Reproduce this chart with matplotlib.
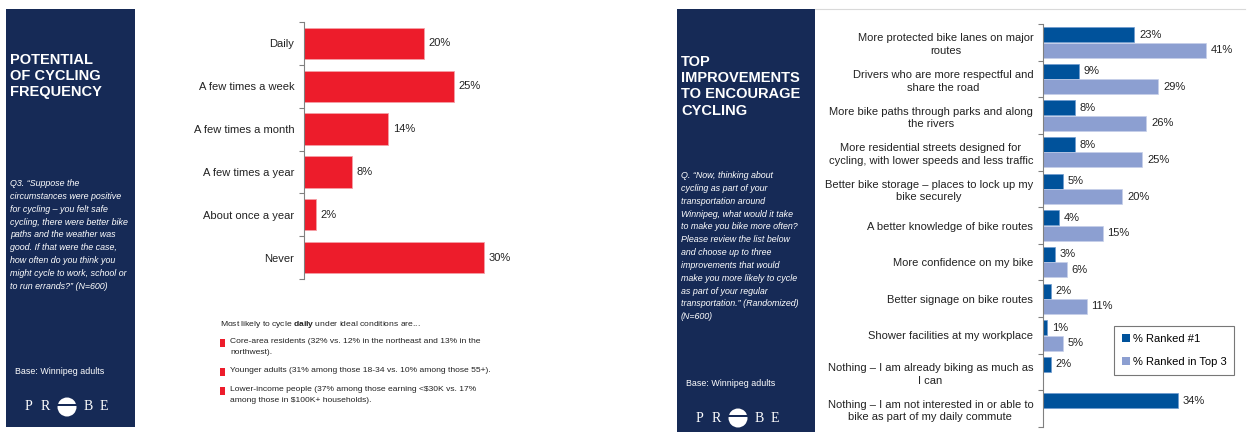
import numpy as np
import matplotlib
matplotlib.use('Agg')
import matplotlib.pyplot as plt
from matplotlib.patches import Rectangle, Ellipse, Patch

plt.rcParams['font.family'] = ['Liberation Sans', 'DejaVu Sans']
plt.rcParams['mathtext.fontset'] = 'custom'
plt.rcParams['mathtext.rm'] = 'Liberation Sans'
plt.rcParams['mathtext.bf'] = 'Liberation Sans:bold'

# data
freq_labels = ['Daily', 'A few times a week', 'A few times a month',
               'A few times a year', 'About once a year', 'Never']
freq_values = [20, 25, 14, 8, 2, 30]

impr_labels = ['More protected bike lanes on major\nroutes',
               'Drivers who are more respectful and\nshare the road',
               'More bike paths through parks and along\nthe rivers',
               'More residential streets designed for\ncycling, with lower speeds and less traffic',
               'Better bike storage \u2013 places to lock up my\nbike securely',
               'A better knowledge of bike routes',
               'More confidence on my bike',
               'Better signage on bike routes',
               'Shower facilities at my workplace',
               'Nothing \u2013 I am already biking as much as\nI can',
               'Nothing \u2013 I am not interested in or able to\nbike as part of my daily commute']
ranked_first = [23, 9, 8, 8, 5, 4, 3, 2, 1, 2, 34]
ranked_top3 = [41, 29, 26, 25, 20, 15, 6, 11, 5, np.nan, np.nan]
series_names = ['% Ranked #1', '% Ranked in Top 3']

navy = '#162a56'
red = '#ed1c2b'
dark_blue = '#00529b'
light_blue = '#8c9fd1'
axis_gray = '#808080'
txt = '#222222'

W, H = 1249, 432
fig = plt.figure(figsize=(W / 100, H / 100), dpi=100)


def fx(x):
    return x / W


def fy(y):
    return 1 - y / H


def panel(x0, y0, x1, y1, title, question, base_y, logo_y):
    fig.add_artist(Rectangle((fx(x0), fy(y1)), fx(x1 - x0), (y1 - y0) / H,
                             transform=fig.transFigure, facecolor=navy, edgecolor='none'))
    fig.text(fx(x0 + 4), fy(title[1]), title[0], color='white', fontsize=10.5,
             fontweight='bold', va='top', linespacing=1.2)
    fig.text(fx(x0 + 4), fy(question[1]), question[0], color='white', fontsize=6.4,
             style='italic', va='top', linespacing=1.55)
    fig.text(fx(x0 + 9), fy(base_y), 'Base: Winnipeg adults', color='white',
             fontsize=6.4, va='center')
    # PROBE logo
    cx = x0 + 61
    for dx, ch in zip([-39, -22, 21, 37], 'PRBE'):
        fig.text(fx(cx + dx), fy(logo_y), ch, color='white', fontsize=10,
                 family='Liberation Serif', va='center', ha='center')
    fig.add_artist(Ellipse((fx(cx), fy(logo_y)), 19 / W, 19 / H,
                           transform=fig.transFigure, facecolor='white', edgecolor='none'))
    fig.add_artist(Rectangle((fx(cx - 10), fy(logo_y - 1)), 20 / W, 2.5 / H,
                             transform=fig.transFigure, facecolor=navy, edgecolor='none'))


panel(6, 9, 135, 427,
      ('POTENTIAL\nOF CYCLING\nFREQUENCY', 53),
      ('Q3. \u201cSuppose the\ncircumstances were positive\nfor cycling \u2013 you felt safe\n'
       'cycling, there were better bike\npaths and the weather was\ngood. If that were the case,\n'
       'how often do you think you\nmight cycle to work, school or\nto run errands?\u201d (N=600)', 179),
      371, 407)

panel(677, 9, 815, 432,
      ('TOP\nIMPROVEMENTS\nTO ENCOURAGE\nCYCLING', 55),
      ('Q. \u201cNow, thinking about\ncycling as part of your\ntransportation around\n'
       'Winnipeg, what would it take\nto make you bike more often?\nPlease review the list below\n'
       'and choose up to three\nimprovements that would\nmake you more likely to cycle\n'
       'as part of your regular\ntransportation.\u201d (Randomized)\n(N=600)', 171),
      383, 418)

# thin line at top of right slide
fig.add_artist(plt.Line2D([fx(815), fx(1245)], [fy(9), fy(9)], transform=fig.transFigure,
                          color='#d9d9d9', lw=0.8))

# left chart
px_per = 6.0
ax = fig.add_axes([fx(304), fy(279), 50 * px_per / W, 257 / H])
y = np.arange(len(freq_values))
ax.barh(y, freq_values, height=0.73, color=red, edgecolor='#f4a0a6', linewidth=0.6)
for yi, v in zip(y, freq_values):
    ax.annotate(f'{v}%', (v, yi), xytext=(3.5, 0), textcoords='offset points',
                va='center', ha='left', fontsize=8, color=txt)
ax.set_xlim(0, 50)
ax.set_ylim(len(freq_values) - 0.5, -0.5)
ax.set_yticks(y)
ax.set_yticklabels(freq_labels, fontsize=8, color=txt)
ax.set_yticks(np.arange(-0.5, len(freq_values)), minor=True)
ax.tick_params(axis='y', which='major', length=0, pad=7)
ax.tick_params(axis='y', which='minor', length=3.5, color=axis_gray, width=0.8)
ax.set_xticks([])
for s in ['top', 'right', 'bottom']:
    ax.spines[s].set_visible(False)
ax.spines['left'].set_color(axis_gray)
ax.spines['left'].set_linewidth(0.8)
ax.patch.set_alpha(0)

# notes under left chart
fig.text(fx(220), fy(324), 'Most likely to cycle $\\bf{daily}$ under ideal conditions are...',
         fontsize=6.1, color=txt, va='center')
notes = ['Core-area residents (32% vs. 12% in the northeast and 13% in the\nnorthwest).',
         'Younger adults (31% among those 18-34 vs. 10% among those 55+).',
         'Lower-income people (37% among those earning <$30K vs. 17%\namong those in $100K+ households).']
note_y = [343, 372, 391]
for t, ny in zip(notes, note_y):
    fig.add_artist(Rectangle((fx(220), fy(ny + 4)), 5 / W, 8 / H, transform=fig.transFigure,
                             facecolor=red, edgecolor='none'))
    fig.text(fx(230), fy(ny - 5), t, fontsize=6.1, color=txt, va='top',
             linespacing=1.7, parse_math=False)

# right chart
px_per2 = 3.97
ax2 = fig.add_axes([fx(1043), fy(427), 52 * px_per2 / W, 403 / H])
y2 = np.arange(len(impr_labels))
off = 0.21
hb = 0.41
first = np.array(ranked_first, dtype=float)
top3 = np.array(ranked_top3, dtype=float)
ax2.barh(y2 - off, first, height=hb, color=dark_blue, edgecolor='#6f9bd0', linewidth=0.5,
         label=series_names[0])
ax2.barh(y2 + off, np.nan_to_num(top3), height=hb, color=light_blue, edgecolor='#c5cfe9',
         linewidth=0.5, label=series_names[1])
for yi, v in zip(y2, first):
    ax2.annotate(f'{v:.0f}%', (v, yi - off), xytext=(3.5, 0), textcoords='offset points',
                 va='center', ha='left', fontsize=8, color=txt)
for yi, v in zip(y2, top3):
    if not np.isnan(v):
        ax2.annotate(f'{v:.0f}%', (v, yi + off), xytext=(3.5, 0), textcoords='offset points',
                     va='center', ha='left', fontsize=8, color=txt)
ax2.set_xlim(0, 52)
ax2.set_ylim(len(impr_labels) - 0.5, -0.5)
ax2.set_yticks(y2)
ax2.set_yticklabels(impr_labels, fontsize=8, color=txt, ha='right', multialignment='center',
                    linespacing=1.32)
ax2.set_yticks(np.arange(-0.5, len(impr_labels)), minor=True)
ax2.tick_params(axis='y', which='major', length=0, pad=7)
ax2.tick_params(axis='y', which='minor', length=3.5, color=axis_gray, width=0.8)
ax2.set_xticks([])
for s in ['top', 'right', 'bottom']:
    ax2.spines[s].set_visible(False)
ax2.spines['left'].set_color(axis_gray)
ax2.spines['left'].set_linewidth(0.8)
ax2.patch.set_alpha(0)

handles = [Patch(facecolor=dark_blue, edgecolor='none'), Patch(facecolor=light_blue, edgecolor='none')]
leg = fig.legend(handles, series_names, loc='upper left',
                 bbox_to_anchor=(fx(1114), fy(326)), bbox_transform=fig.transFigure,
                 fontsize=8, frameon=True, fancybox=False, borderaxespad=0,
                 handlelength=0.7, handleheight=0.7, handletextpad=0.3,
                 labelspacing=1.2, borderpad=0.7)
leg.get_frame().set_edgecolor('#555555')
leg.get_frame().set_linewidth(0.8)

fig.savefig('out.png', dpi=100)
